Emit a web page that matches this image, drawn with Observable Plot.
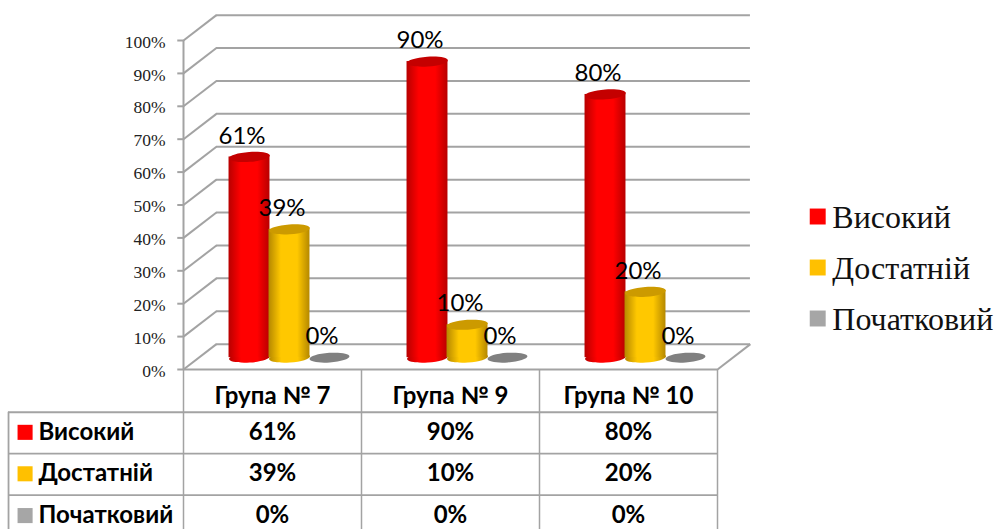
<!DOCTYPE html>
<html><head><meta charset="utf-8">
<script src="https://cdn.jsdelivr.net/npm/d3@7"></script>
<script src="https://cdn.jsdelivr.net/npm/@observablehq/plot@0.6"></script>
<style>html,body{margin:0;padding:0;background:#fff}svg{display:block;max-width:none}</style>
</head><body><div id="chart"></div>
<script>
const groups = ["Група № 7", "Група № 9", "Група № 10"];
const seriesNames = ["Високий", "Достатній", "Початковий"];
const vysokyi = [61, 90, 80];
const dostatnii = [39, 10, 20];
const pochatkovyi = [0, 0, 0];
const seriesValues = [vysokyi, dostatnii, pochatkovyi];
const swatches = ["#ff0000", "#ffc000", "#a6a6a6"];
const tickValues = d3.range(0, 101, 10);

const bars = groups.flatMap((g, i) => seriesNames.map((s, j) => ({g: i, s: j, v: seriesValues[j][i]})));
const depthX = 0.185, depthY = 7.7, barDepthX = 0.0955, barDepthY = 3.6, barStep = 0.2247, barHalf = 0.115;
const cx = d => d.g + 0.5 + barDepthX + (d.s - 1) * barStep;
const gray = "#a3a3a3";

const tilted = {
  draw(c, size) {
    const a = Math.sqrt(size / Math.PI), b = a * 0.24, t = -4 * Math.PI / 180, k = 0.5523;
    const p = (x, y) => [x * Math.cos(t) - y * Math.sin(t), x * Math.sin(t) + y * Math.cos(t)];
    c.moveTo(...p(a, 0));
    c.bezierCurveTo(...p(a, k * b), ...p(k * a, b), ...p(0, b));
    c.bezierCurveTo(...p(-k * a, b), ...p(-a, k * b), ...p(-a, 0));
    c.bezierCurveTo(...p(-a, -k * b), ...p(-k * a, -b), ...p(0, -b));
    c.bezierCurveTo(...p(k * a, -b), ...p(a, -k * b), ...p(a, 0));
    c.closePath();
  }
};
const grad = (id, edge, mid) => `<linearGradient id="${id}" x1="0" x2="1" y1="0" y2="0">
  <stop offset="0" stop-color="${edge}"/><stop offset="0.3" stop-color="${mid}"/>
  <stop offset="0.7" stop-color="${mid}"/><stop offset="1" stop-color="${edge}"/></linearGradient>`;
const defs = () => d3.create("svg:defs").html(
  grad("g0", "#b80000", "#ff0000") + grad("g1", "#b58800", "#ffc800")).node();

const front = bars.filter(d => d.s < 2);
const lineOpts = {stroke: gray, strokeWidth: 2};
const rowY = [-19.1, -31.7, -44.4];
const headY = -8.2;
const colX = [0, 1, 2, 3];
const tableRows = [-13, -25.6, -38.2];
const tableLeft = -0.983;
const lx = 3.563, ltx = 3.645;
const legendY = [46.5, 31, 15.5];
const labelFont = "Lato, Carlito, sans-serif";
const serif = "'Liberation Serif', serif";

const rowsText = bars.map(d => ({...d, y: rowY[d.s]}));

const plot = Plot.plot({
  width: 995, height: 529,
  marginLeft: 183, marginRight: 278, marginTop: 40, marginBottom: 160,
  style: {background: "#fff", color: "#000", overflow: "visible"},
  x: {type: "linear", domain: [0, 3], axis: null},
  y: {type: "linear", domain: [0, 100], axis: null},
  marks: [
    defs,
    // back wall, side wall, floor
    Plot.ruleY(tickValues, {y: d => d + depthY, x1: depthX, x2: 3 + depthX, ...lineOpts}),
    Plot.link(tickValues, {x1: 0, y1: d => d, x2: depthX, y2: d => d + depthY, ...lineOpts}),
    Plot.link([0], {x1: 3, y1: 0, x2: 3 + depthX, y2: depthY, ...lineOpts}),
    Plot.ruleX([0], {y1: 0, y2: 100, ...lineOpts}),
    Plot.ruleY([0], {x1: 0, x2: 3, ...lineOpts}),
    Plot.link(tickValues, {x1: -0.035, x2: 0, y1: d => d, y2: d => d, ...lineOpts}),
    Plot.text(tickValues, {x: () => 0, y: d => d, text: d => d + "%", textAnchor: "end", dx: -18, dy: 1.5, fontSize: 17.5, fontFamily: serif, fill: "#222"}),
    // cylinders
    ...front.flatMap(d => {
      const fill = `url(#g${d.s})`;
      const cap = d.s === 0 ? "#c40000" : "#cc9a00";
      return [
        Plot.dot([d], {x: cx, y: () => barDepthY, r: 20.5, symbol: tilted, fill, stroke: "none"}),
        Plot.rect([d], {x1: e => cx(e) - barHalf, x2: e => cx(e) + barHalf, y1: () => barDepthY, y2: e => e.v + barDepthY, fill}),
        Plot.dot([d], {x: cx, y: e => e.v + barDepthY, r: 20.5, symbol: tilted, fill: cap, stroke: "none"})
      ];
    }),
    Plot.dot(bars.filter(d => d.s === 2), {x: cx, y: d => d.v + barDepthY, r: 20, symbol: tilted, fill: "#808080", stroke: "none"}),
    // data labels
    Plot.text(bars, {x: cx, y: d => d.v + barDepthY, text: d => d.v + "%", dx: -7.5, dy: -21, fontSize: 24, fontFamily: labelFont, fill: "#000"}),
    // data table
    Plot.ruleY(tableRows, {x1: tableLeft, x2: 3, stroke: gray, strokeWidth: 1.8}),
    Plot.ruleX(colX, {y1: 0, y2: -48.7, stroke: gray, strokeWidth: 1.5}),
    Plot.ruleX([tableLeft], {y1: tableRows[0], y2: -48.7, stroke: gray, strokeWidth: 1.8}),
    Plot.text(groups, {x: (d, i) => i + 0.5, y: () => headY, text: d => d, fontSize: 24, fontWeight: 700, fontFamily: labelFont, fill: "#000"}),
    Plot.text(rowsText, {x: d => d.g + 0.5, y: "y", text: d => d.v + "%", fontSize: 24, fontWeight: 700, fontFamily: labelFont, fill: "#000"}),
    Plot.dot(seriesNames, {x: () => -0.89, y: (d, i) => rowY[i], r: 8.5, symbol: "square", fill: (d, i) => swatches[i], stroke: "none"}),
    Plot.text(seriesNames, {x: () => -0.8146, y: (d, i) => rowY[i], text: d => d, textAnchor: "start", fontSize: 24, fontWeight: 700, fontFamily: labelFont, fill: "#000"}),
    // legend
    Plot.dot(seriesNames, {x: () => lx, y: (d, i) => legendY[i], r: 9, symbol: "square", fill: (d, i) => swatches[i], stroke: "none"}),
    Plot.text(seriesNames, {x: () => ltx, y: (d, i) => legendY[i], text: d => d, textAnchor: "start", dy: 1, fontSize: 32, fontFamily: serif, fill: "#111"})
  ]
});
document.getElementById("chart").appendChild(plot);
</script></body></html>
